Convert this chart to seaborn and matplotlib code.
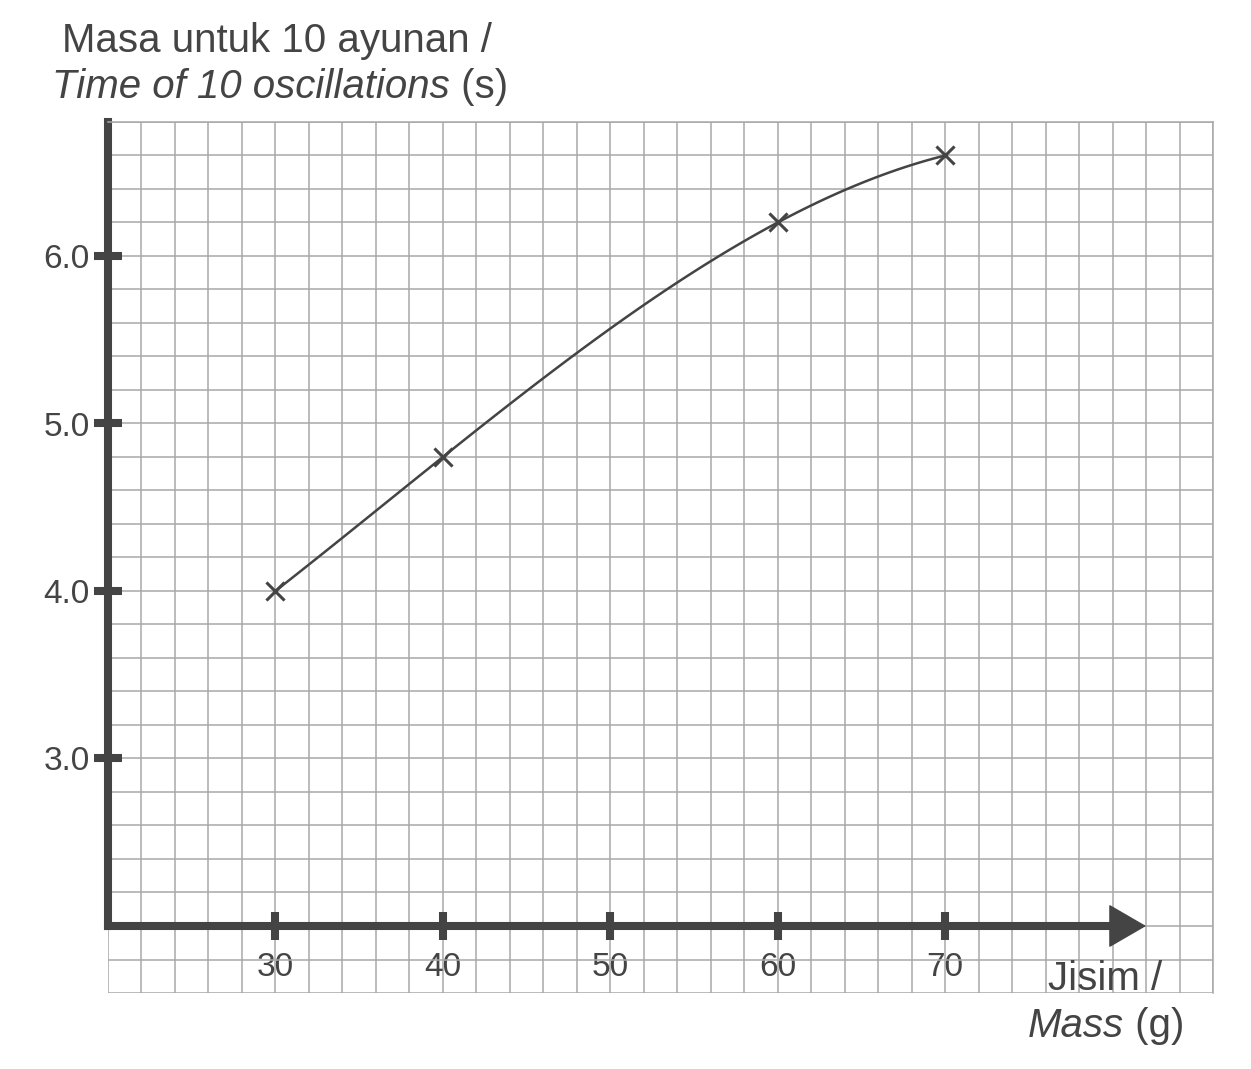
import numpy as np
import pandas as pd
import matplotlib
matplotlib.use("Agg")
import matplotlib.pyplot as plt
import seaborn as sns

# data
mass = [30, 40, 60, 70]
time10 = [4.0, 4.8, 6.2, 6.6]
x_ticks = [30, 40, 50, 60, 70]
y_ticks = [3.0, 4.0, 5.0, 6.0]

INK = "#444444"
GRID = "#a8a8a8"

sns.set_theme(style="white")
plt.rcParams["font.family"] = ["Liberation Sans", "DejaVu Sans"]

df = pd.DataFrame({"mass": mass, "time": time10})

fig = plt.figure(figsize=(12.51, 10.69), dpi=100)
ax = fig.add_axes([108 / 1251, 1 - 993 / 1069, 1105 / 1251, 871 / 1069])

# smooth curve (cubic through the 4 points) + crosses
sns.regplot(data=df, x="mass", y="time", order=3, ci=None, scatter=False,
            line_kws=dict(color=INK, lw=1.8), ax=ax)
sns.scatterplot(data=df, x="mass", y="time", marker="x", s=170,
                color=INK, linewidth=2.2, ax=ax, zorder=5)

ax.set_xlim(20, 86)
ax.set_ylim(1.6, 6.8)

# graph-paper grid
ax.set_xticks(np.arange(20, 87, 2), minor=True)
ax.set_yticks(np.round(np.arange(1.6, 6.81, 0.2), 1), minor=True)
ax.set_xticks(x_ticks)
ax.set_yticks(y_ticks)
ax.set_xticklabels([str(v) for v in x_ticks])
ax.set_yticklabels([f"{v:.1f}" for v in y_ticks])
ax.grid(which="both", color=GRID, lw=1.1)
ax.set_axisbelow(True)

ax.tick_params(which="minor", length=0)
ax.tick_params(which="major", bottom=True, left=True, direction="inout",
               length=20, width=5.8, colors=INK, labelsize=24)
ax.tick_params(axis="x", which="major", pad=9)
ax.tick_params(axis="y", which="major", pad=3)

# thick axes
for side in ["top", "right"]:
    ax.spines[side].set_color(GRID)
    ax.spines[side].set_linewidth(1.1)
ax.spines["left"].set_color(INK)
ax.spines["left"].set_linewidth(5.8)
ax.spines["left"].set_bounds(2.0, 6.8)
ax.spines["bottom"].set_position(("data", 2.0))
ax.spines["bottom"].set_color(INK)
ax.spines["bottom"].set_linewidth(5.8)
ax.spines["bottom"].set_bounds(20, 80)
ax.annotate("", xy=(82.0, 2.0), xytext=(79.0, 2.0),
            arrowprops=dict(arrowstyle="-|>,head_length=1.0,head_width=0.58",
                            mutation_scale=25, color=INK, lw=1,
                            shrinkA=0, shrinkB=0), annotation_clip=False)

ax.set_xlabel("")
ax.set_ylabel("")

# axis titles (italic english part followed by upright unit)
fig.text(277 / 1251, 1 - 52 / 1069, "Masa untuk 10 ayunan /",
         ha="center", va="baseline", fontsize=29, color=INK)
t1 = fig.text(52 / 1251, 1 - 98 / 1069, "Time of 10 oscillations",
              ha="left", va="baseline", fontsize=29, color=INK, style="italic")
ax.annotate(" (s)", xy=(1, 0), xycoords=t1, ha="left", va="bottom",
            fontsize=29, color=INK, annotation_clip=False)

fig.text(1105 / 1251, 1 - 990 / 1069, "Jisim /",
         ha="center", va="baseline", fontsize=29, color=INK)
t2 = fig.text(1028 / 1251, 1 - 1037 / 1069, "Mass",
              ha="left", va="baseline", fontsize=29, color=INK, style="italic")
ax.annotate(" (g)", xy=(1, 0), xycoords=t2, ha="left", va="bottom",
            fontsize=29, color=INK, annotation_clip=False)

fig.savefig("out.png", dpi=100, facecolor="white")
